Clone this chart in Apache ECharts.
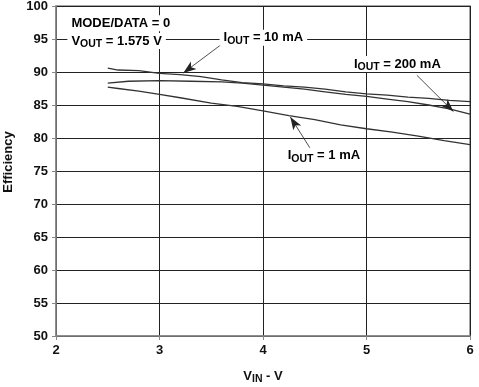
<!DOCTYPE html>
<html><head><meta charset="utf-8">
<script src="https://cdn.jsdelivr.net/npm/echarts@6/dist/echarts.min.js"></script>
<style>html,body{margin:0;padding:0;background:#fff}#c{width:479px;height:387px}</style>
</head><body><div id="c"></div>
<script>
// Data (Vin in V, efficiency in %)
const vin10 = [2.5, 2.6, 2.8, 3.0, 3.2, 3.4, 3.6, 3.8, 4.0, 4.2, 4.4, 4.6, 4.8, 5.0, 5.2, 5.4, 5.6, 5.8, 6.0];
const eff10 = [90.6, 90.3, 90.2, 89.8, 89.6, 89.3, 88.8, 88.4, 88.2, 87.9, 87.7, 87.4, 87.0, 86.7, 86.5, 86.2, 86.0, 85.7, 85.5];
const vin200 = [2.5, 2.7, 3.0, 3.3, 3.6, 3.8, 4.0, 4.2, 4.4, 4.6, 4.8, 5.0, 5.2, 5.4, 5.6, 5.8, 6.0];
const eff200 = [88.3, 88.6, 88.7, 88.6, 88.5, 88.3, 88.0, 87.7, 87.4, 87.0, 86.6, 86.3, 85.9, 85.5, 85.0, 84.4, 83.6];
const vin1 = [2.5, 2.6, 2.8, 3.0, 3.2, 3.5, 3.75, 4.0, 4.25, 4.5, 4.75, 5.0, 5.25, 5.5, 5.75, 6.0];
const eff1 = [87.7, 87.5, 87.1, 86.6, 86.1, 85.3, 84.8, 84.1, 83.4, 82.8, 82.0, 81.4, 80.9, 80.3, 79.6, 79.0];
const xTicks = [2, 3, 4, 5, 6];
const yTicks = [50, 55, 60, 65, 70, 75, 80, 85, 90, 95, 100];

const pair = (xs, ys) => xs.map((x, i) => [x, ys[i]]);
const FONT = '"Liberation Sans", Arial, sans-serif';
const rich = {
  m: {fontFamily: FONT, fontWeight: 'bold', fontSize: 13, color: '#111', lineHeight: 16},
  s: {fontFamily: FONT, fontWeight: 'bold', fontSize: 10.5, color: '#111', lineHeight: 16, padding: [6, 0, 0, 0]}
};
const lineStyle = {color: '#333', width: 1.3};

const chart = echarts.init(document.getElementById('c'), null, {renderer: 'canvas'});
chart.setOption({
  animation: false,
  backgroundColor: '#fff',
  grid: {left: 56, right: 9, top: 6, bottom: 51, show: true, borderColor: '#888', borderWidth: 1.5,
    backgroundColor: 'transparent', containLabel: false, outerBoundsMode: 'none'},
  xAxis: {
    type: 'value', min: 2, max: 6, interval: 1,
    axisLine: {show: true, lineStyle: {color: '#888', width: 1.5}},
    axisTick: {show: true, length: 4, lineStyle: {color: '#888'}},
    splitLine: {show: true, lineStyle: {color: '#222', width: 1}},
    axisLabel: {color: '#111', fontFamily: FONT, fontWeight: 'bold', fontSize: 13, margin: 8,
      formatter: v => xTicks.includes(v) ? String(v) : ''},
    name: '{m|V}{s|IN}{m| - V}', nameLocation: 'middle', nameGap: 32,
    nameTextStyle: {rich: rich}
  },
  yAxis: {
    type: 'value', min: 50, max: 100, interval: 5,
    axisLine: {show: true, lineStyle: {color: '#888', width: 1.5}},
    axisTick: {show: true, length: 4, lineStyle: {color: '#888'}},
    splitLine: {show: true, lineStyle: {color: '#222', width: 1}},
    axisLabel: {color: '#111', fontFamily: FONT, fontWeight: 'bold', fontSize: 13, margin: 8,
      formatter: v => yTicks.includes(v) ? String(v) : ''}
  },
  series: [
    {type: 'line', name: '10 mA', data: pair(vin10, eff10), showSymbol: false, lineStyle: lineStyle, z: 3,
      markLine: {silent: true, symbol: ['none', 'arrow'], symbolSize: [7, 13], lineStyle: {color: '#222', width: 0.8, type: 'solid'}, label: {show: false},
        data: [
          [{coord: [3.60, 94.2]}, {coord: [3.23, 89.85]}],
          [{coord: [5.487, 89.5]}, {coord: [5.84, 84.0]}],
          [{coord: [4.457, 78.4]}, {coord: [4.264, 83.2]}]
        ]}},
    {type: 'line', name: '200 mA', data: pair(vin200, eff200), showSymbol: false, lineStyle: lineStyle, z: 3},
    {type: 'line', name: '1 mA', data: pair(vin1, eff1), showSymbol: false, lineStyle: lineStyle, z: 3}
  ]
});

// Annotation text placed in data coordinates
const notes = [
  {at: [2.11, 97.4], text: '{m|MODE/DATA = 0}'},
  {at: [2.11, 94.7], text: '{m|V}{s|OUT}{m| = 1.575 V}'},
  {at: [3.58, 95.2], text: '{m|I}{s|OUT}{m| = 10 mA}'},
  {at: [4.84, 91.2], text: '{m|I}{s|OUT}{m| = 200 mA}'},
  {at: [4.20, 77.3], text: '{m|I}{s|OUT}{m| = 1 mA}'}
];
const graphics = notes.map(n => {
  const p = chart.convertToPixel({gridIndex: 0}, n.at);
  return {type: 'text', x: p[0], y: p[1], z: 100,
    style: {text: n.text, rich: rich, align: 'left', verticalAlign: 'middle',
      backgroundColor: '#fff', padding: [0, 4, 0, 4]}};
});
graphics.push({type: 'text', x: 8, y: 162, rotation: Math.PI / 2, z: 100,
  style: {text: 'Efficiency', fontFamily: FONT, fontWeight: 'bold', fontSize: 13, fill: '#111', align: 'center', verticalAlign: 'middle'}});
chart.setOption({graphic: graphics});
</script>
</body></html>
